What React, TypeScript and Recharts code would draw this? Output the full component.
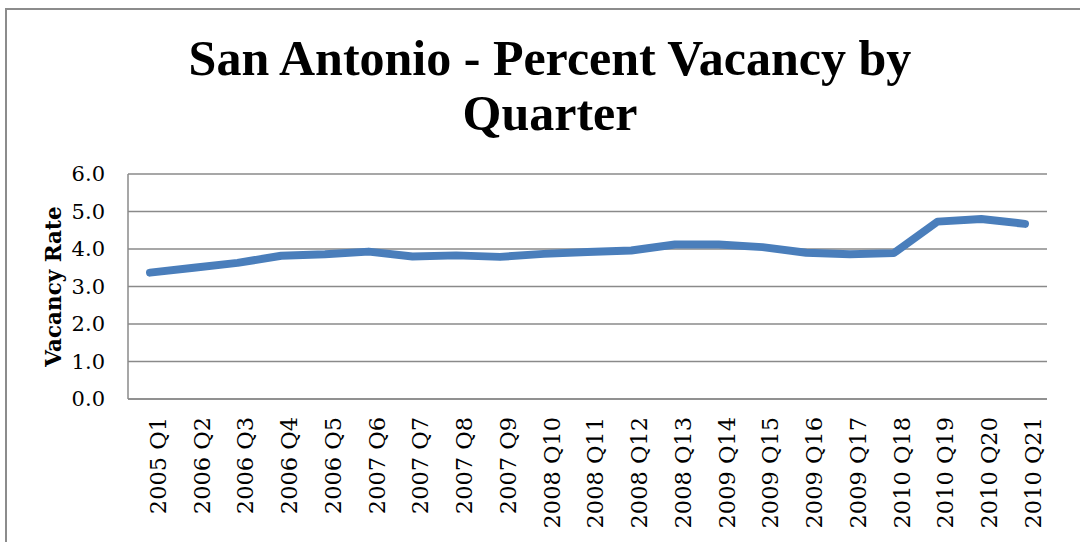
import React from "react";
import { LineChart, Line, XAxis, YAxis, CartesianGrid } from "recharts";

const QUARTERS = [
  "2005 Q1", "2006 Q2", "2006 Q3", "2006 Q4", "2006 Q5", "2007 Q6", "2007 Q7",
  "2007 Q8", "2007 Q9", "2008 Q10", "2008 Q11", "2008 Q12", "2008 Q13", "2009 Q14",
  "2009 Q15", "2009 Q16", "2009 Q17", "2010 Q18", "2010 Q19", "2010 Q20", "2010 Q21",
];

const VACANCY = [
  3.37, 3.5, 3.63, 3.82, 3.86, 3.93, 3.8, 3.83, 3.79, 3.87, 3.92, 3.96, 4.12, 4.12,
  4.05, 3.9, 3.86, 3.89, 4.73, 4.8, 4.67,
];

const Y_TICKS = [0, 1, 2, 3, 4, 5, 6];

const GRID = "#8a8a8a";
const LINE = "#4a7ebb";

const data = QUARTERS.map((q, i) => ({ quarter: q, rate: VACANCY[i] }));

// vertical axis title, drawn inside the y-axis box
function AxisTitle(props: any) {
  const vb = props.viewBox || { x: 0, y: 0, width: 0, height: 0 };
  const cx = vb.x + 53;
  const cy = vb.y + vb.height / 2;
  return (
    <text
      x={cx}
      y={cy}
      transform={`rotate(-90 ${cx} ${cy})`}
      textAnchor="middle"
      dominantBaseline="central"
      style={{ fontFamily: "DejaVu Serif", fontWeight: "bold", fontSize: 21.5, fill: "#000" }}
    >
      Vacancy Rate
    </text>
  );
}

export default function App() {
  return (
    <div style={{ position: "absolute", left: 0, top: 0, width: 1080, height: 542, background: "#fff", overflow: "hidden" }}>
      {/* chart border (only left & top are visible in the frame) */}
      <div
        style={{
          position: "absolute", left: 5, top: 8, width: 1090, height: 560,
          borderLeft: "2px solid #8c8c8c", borderTop: "2px solid #8c8c8c",
        }}
      />
      <div
        style={{
          position: "absolute", left: 20, top: 31, width: 1060, textAlign: "center",
          fontFamily: "Liberation Serif", fontWeight: "bold", fontSize: 50, lineHeight: "55px", color: "#000",
        }}
      >
        San Antonio - Percent Vacancy by
        <br />
        Quarter
      </div>
      <div style={{ position: "absolute", left: 0, top: 0 }}>
        <LineChart width={1080} height={542} data={data} margin={{ top: 174, right: 33, bottom: 0, left: 0 }}>
          <CartesianGrid vertical={false} stroke={GRID} strokeWidth={1.5} />
          <XAxis
            dataKey="quarter"
            height={143}
            interval={0}
            padding={{ left: 22, right: 22 }}
            axisLine={{ stroke: GRID, strokeWidth: 1.5 }}
            tickLine={false}
            tickSize={0}
            tickMargin={18}
            angle={-90}
            textAnchor="end"
            tick={{ fill: "#000", fontFamily: "DejaVu Serif", fontSize: 22.5 }}
          />
          <YAxis
            width={128}
            domain={[0, 6]}
            ticks={Y_TICKS}
            interval={0}
            tickFormatter={(v: number) => v.toFixed(1)}
            axisLine={{ stroke: GRID, strokeWidth: 1.5 }}
            tickLine={false}
            tickSize={0}
            tickMargin={23}
            tick={{ fill: "#000", fontFamily: "DejaVu Serif", fontSize: 21 }}
            label={<AxisTitle />}
          />
          <Line
            type="linear"
            dataKey="rate"
            stroke={LINE}
            strokeWidth={8}
            strokeLinecap="round"
            strokeLinejoin="round"
            dot={false}
            activeDot={false}
            isAnimationActive={false}
          />
        </LineChart>
      </div>
    </div>
  );
}
